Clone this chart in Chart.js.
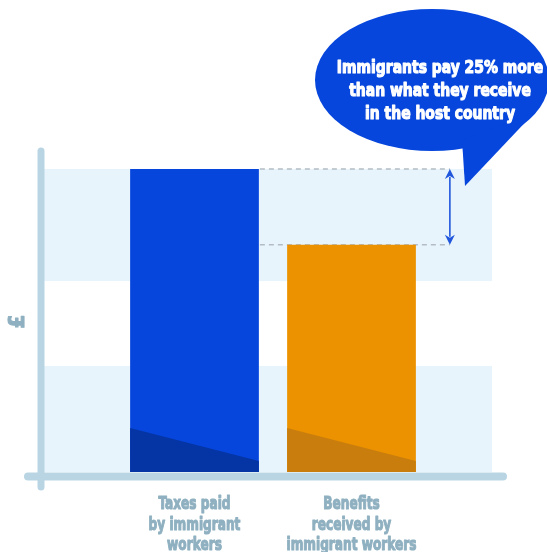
<!DOCTYPE html>
<html>
<head>
<meta charset="utf-8">
<title>Taxes vs benefits</title>
<script src="https://cdn.jsdelivr.net/npm/chart.js@4/dist/chart.umd.min.js"></script>
<style>
  html, body { margin: 0; padding: 0; background: #fff; overflow: hidden; }
  #wrap { position: relative; width: 547px; height: 552px; }
</style>
</head>
<body>
<div id="wrap"><canvas id="chart"></canvas></div>
<script>
  'use strict';

  // Data
  const categories = [
    ['Taxes paid', 'by immigrant', 'workers'],
    ['Benefits', 'received by', 'immigrant workers']
  ];
  const amounts = [100, 75];            // relative amounts (taxes = 100)
  const bandEdges = [[0, 35], [63, 100]]; // shaded background bands, in value units
  const calloutLines = ['Immigrants pay 25% more', 'than what they receive', 'in the host country'];
  const axisTitle = '£';

  const colors = {
    bars: ['#0646dc', '#ec9200'],
    barShade: ['#0535a4', '#c97d0c'],
    band: '#e8f4fc',
    axis: '#b9d5e4',
    label: '#8fb0c0',
    dash: '#b3bcc4',
    arrow: '#2157dc',
    bubble: '#0646dc'
  };
  const condensed = "'DejaVu Sans Condensed', 'DejaVu Sans', sans-serif";

  // heavy condensed text: squeeze horizontally around (x, y), thicken with a stroke
  function squeezedText(ctx, text, x, y, sx) {
    ctx.save();
    ctx.translate(x, y);
    ctx.scale(sx, 1);
    ctx.strokeStyle = ctx.fillStyle;
    ctx.lineWidth = 1.1;
    ctx.lineJoin = 'round';
    ctx.strokeText(text, 0, 0);
    ctx.fillText(text, 0, 0);
    ctx.restore();
  }

  // Background bands, guides and gap arrow, drawn under the bars
  const backdropPlugin = {
    id: 'backdrop',
    beforeDatasetsDraw(chart) {
      const { ctx, chartArea, scales: { y } } = chart;
      const bandL = chartArea.left - 72, bandR = chartArea.right + 62;
      ctx.save();
      ctx.fillStyle = colors.band;
      bandEdges.forEach(([lo, hi]) => {
        const top = y.getPixelForValue(hi), bot = y.getPixelForValue(lo);
        ctx.fillRect(bandL, top, bandR - bandL, bot - top);
      });

      // dashed guides from the taxes bar top and benefits bar top
      const meta = chart.getDatasetMeta(0);
      const b0 = meta.data[0], b1 = meta.data[1];
      const arrowX = b1.x + b1.width / 2 + 34;
      ctx.strokeStyle = colors.dash;
      ctx.lineWidth = 1.5;
      ctx.setLineDash([5, 4]);
      [b0.y, b1.y].forEach(py => {
        ctx.beginPath();
        ctx.moveTo(b0.x + b0.width / 2 + 1, py);
        ctx.lineTo(arrowX, py);
        ctx.stroke();
      });
      ctx.setLineDash([]);

      // double-headed arrow showing the gap
      const ah = 10, aw = 5;
      ctx.strokeStyle = colors.arrow;
      ctx.fillStyle = colors.arrow;
      ctx.lineWidth = 1.6;
      ctx.beginPath();
      ctx.moveTo(arrowX, b0.y + ah - 2);
      ctx.lineTo(arrowX, b1.y - ah + 2);
      ctx.stroke();
      ctx.beginPath();
      ctx.moveTo(arrowX, b0.y);
      ctx.lineTo(arrowX - aw, b0.y + ah);
      ctx.lineTo(arrowX, b0.y + ah - 3);
      ctx.lineTo(arrowX + aw, b0.y + ah);
      ctx.closePath();
      ctx.fill();
      ctx.beginPath();
      ctx.moveTo(arrowX, b1.y);
      ctx.lineTo(arrowX - aw, b1.y - ah);
      ctx.lineTo(arrowX, b1.y - ah + 3);
      ctx.lineTo(arrowX + aw, b1.y - ah);
      ctx.closePath();
      ctx.fill();
      ctx.restore();
    },
    afterDatasetsDraw(chart) {
      const { ctx, chartArea, scales: { x } } = chart;
      const meta = chart.getDatasetMeta(0);
      ctx.save();
      // darker wedge at the foot of each bar
      meta.data.forEach((bar, i) => {
        const l = bar.x - bar.width / 2, r = bar.x + bar.width / 2, b = bar.base;
        ctx.fillStyle = colors.barShade[i];
        ctx.beginPath();
        ctx.moveTo(l, b - 44);
        ctx.lineTo(r, b - 11);
        ctx.lineTo(r, b);
        ctx.lineTo(l, b);
        ctx.closePath();
        ctx.fill();
      });

      // thick rounded axes
      ctx.strokeStyle = colors.axis;
      ctx.lineCap = 'round';
      ctx.lineWidth = 7;
      const ax = chartArea.left - 75;
      ctx.beginPath();
      ctx.moveTo(ax, chartArea.top - 18);
      ctx.lineTo(ax, chartArea.bottom + 15);
      ctx.stroke();
      ctx.lineWidth = 8;
      ctx.beginPath();
      ctx.moveTo(chartArea.left - 88, chartArea.bottom + 4.5);
      ctx.lineTo(chartArea.right + 73, chartArea.bottom + 4.5);
      ctx.stroke();

      // category labels under each bar, on the x scale's tick positions
      ctx.fillStyle = colors.label;
      ctx.font = 'bold 18.5px ' + condensed;
      ctx.textAlign = 'center';
      ctx.textBaseline = 'alphabetic';
      chart.data.labels.forEach((lines, i) => {
        const px = x.getPixelForTick(i);
        lines.forEach((t, j) => squeezedText(ctx, t, px, chartArea.bottom + 37 + j * 20.5, 0.73));
      });

      // rotated currency title
      ctx.translate(chartArea.left - 98, (chartArea.top + chartArea.bottom) / 2 + 1);
      ctx.rotate(-Math.PI / 2);
      ctx.font = 'bold 22px ' + condensed;
      ctx.textBaseline = 'middle';
      squeezedText(ctx, axisTitle, 0, 0, 1);
      ctx.restore();
    },
    afterDraw(chart) {
      const { ctx } = chart;
      const cx = 432, cy = 80, rx = 117, ry = 71;
      ctx.save();
      ctx.fillStyle = colors.bubble;
      ctx.beginPath();
      ctx.ellipse(cx, cy, rx, ry, 0, 0, Math.PI * 2);
      ctx.fill();
      // tail
      ctx.beginPath();
      ctx.moveTo(462, 140);
      ctx.lineTo(465, 186);
      ctx.lineTo(535, 112);
      ctx.closePath();
      ctx.fill();

      ctx.fillStyle = '#fff';
      ctx.font = 'bold 18px ' + condensed;
      ctx.textAlign = 'center';
      ctx.textBaseline = 'alphabetic';
      calloutLines.forEach((t, i) => squeezedText(ctx, t, 440, 73 + i * 23, 0.86));
      ctx.restore();
    }
  };

  new Chart(document.getElementById('chart'), {
    type: 'bar',
    data: {
      labels: categories,
      datasets: [{
        data: amounts,
        backgroundColor: colors.bars,
        borderWidth: 0,
        barPercentage: 1,
        categoryPercentage: 0.82
      }]
    },
    options: {
      responsive: true,
      maintainAspectRatio: false,
      animation: false,
      layout: { padding: { left: 116, right: 117, top: 169, bottom: 0 } },
      plugins: { legend: { display: false }, tooltip: { enabled: false } },
      scales: {
        x: {
          grid: { display: false },
          border: { display: false },
          ticks: { display: false },
          afterFit(scale) { scale.height = 80; }
        },
        y: { display: false, min: 0, max: 100 }
      }
    },
    plugins: [backdropPlugin]
  });
</script>
</body>
</html>
